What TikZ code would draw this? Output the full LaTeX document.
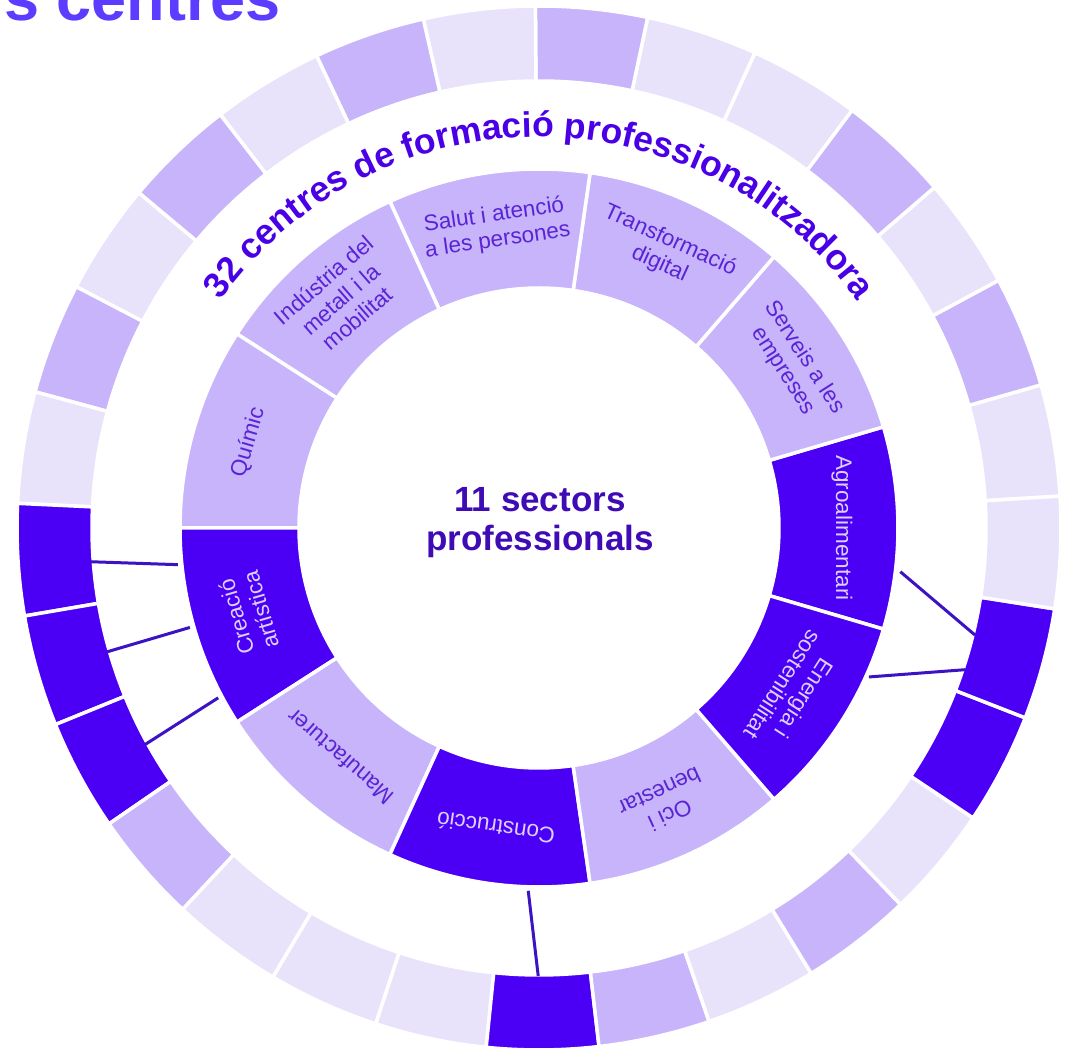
\documentclass[tikz,border=0pt]{standalone}
\usepackage{fontspec}
\setmainfont{Liberation Sans}
\usetikzlibrary{decorations.text}
\definecolor{dk}{HTML}{4B00F5}
\definecolor{md}{HTML}{C7B4FA}
\definecolor{vl}{HTML}{E9E2FB}
\definecolor{ptx}{HTML}{5A24D6}
\definecolor{ltx}{HTML}{DCD0FF}
\definecolor{ctx}{HTML}{3F0BB5}
\definecolor{arct}{HTML}{4A00E6}
\definecolor{ttl}{HTML}{5C3CFF}
\definecolor{conn}{HTML}{3B12C4}
\tikzset{
  seg/.style={draw=white, line width=3.5pt},
  lab/.style={align=center, inner sep=0pt, font=\fontsize{22.5}{25.5}\selectfont},
  connline/.style={draw=conn, line width=3pt},
}
\begin{document}
\begin{tikzpicture}[x=1pt,y=1pt]
\useasboundingbox (0,0) rectangle (1068,1051);
\fill[white] (0,0) rectangle (1068,1051);
\clip (0,0) rectangle (1068,1051);
\coordinate (O) at (539,523);

% outer ring: 29 segments
\foreach \col [count=\k from 0] in {vl,md,vl,md,vl,vl,md,vl,md,vl,md,vl,md,vl,dk,dk,dk,md,vl,vl,vl,dk,md,vl,md,vl,dk,dk,vl}{
  \pgfmathsetmacro{\angA}{3.5+\k*360/29}
  \pgfmathsetmacro{\angB}{\angA+360/29}
  \filldraw[seg, fill=\col] ([shift={(O)}]\angA:447) arc[start angle=\angA, end angle=\angB, radius=447]
     -- ([shift={(O)}]\angB:522) arc[start angle=\angB, end angle=\angA, radius=522] -- cycle;
}

% inner ring: 11 sectors
\foreach \i/\col/\tc/\txt in {
  0/dk/ltx/Agroalimentari,
  1/md/ptx/{Serveis a les\\empreses},
  2/md/ptx/{Transformació\\digital},
  3/md/ptx/{Salut i atenció\\a les persones},
  4/md/ptx/{Indústria del\\metall i la\\mobilitat},
  5/md/ptx/Químic,
  6/dk/ltx/{Creació\\artística},
  7/md/ptx/Manufacturer,
  8/dk/ltx/Construcció,
  9/md/ptx/{Oci i\\benestar},
  10/dk/ltx/{Energia i\\sostenibilitat}}{
  \pgfmathsetmacro{\angC}{\i*360/11}
  \pgfmathsetmacro{\angA}{\angC-180/11}
  \pgfmathsetmacro{\angB}{\angC+180/11}
  \filldraw[seg, fill=\col] ([shift={(O)}]\angA:240) arc[start angle=\angA, end angle=\angB, radius=240]
     -- ([shift={(O)}]\angB:359) arc[start angle=\angB, end angle=\angA, radius=359] -- cycle;
  \node[lab, text=\tc, rotate=\angC-90] (s\i) at ([shift={(O)}]\angC:303) {\txt};
}

% connectors
\coordinate (l1a) at ([shift={(O)}]185.8:363);
\coordinate (l1b) at ([shift={(O)}]184.3:450);
\coordinate (l2a) at ([shift={(O)}]195.9:363);
\coordinate (l2b) at ([shift={(O)}]196.0:450);
\coordinate (l3a) at ([shift={(O)}]207.9:363);
\coordinate (l3b) at ([shift={(O)}]208.8:450);
\coordinate (b1a) at ([shift={(O)}]268.3:363);
\coordinate (b1b) at ([shift={(O)}]269.9:448);
\coordinate (r1a) at ([shift={(O)}]-6.9:364);
\coordinate (r1b) at ([shift={(O)}]-13.8:449);
\coordinate (r2a) at ([shift={(O)}]-24.3:362);
\coordinate (r2b) at ([shift={(O)}]-18.4:449);
\draw[connline] (l1a) -- (l1b);
\draw[connline] (l2a) -- (l2b);
\draw[connline] (l3a) -- (l3b);
\draw[connline] (b1a) -- (b1b);
\draw[connline] (r1a) -- (r1b);
\draw[connline] (r2a) -- (r2b);

% centre text
\node[anchor=base, inner sep=0pt, text=ctx, font=\fontsize{35}{40}\selectfont\bfseries] (c1) at (540,539) {11 sectors};
\node[anchor=base, inner sep=0pt, text=ctx, font=\fontsize{35}{40}\selectfont\bfseries] (c2) at (540,500) {professionals};

% arc title
\path[decorate, decoration={text along path, text align=center, text color=arct,
   text={|\fontsize{35.5}{40}\selectfont\bfseries|32 centres de formació professionalitzadora}}]
   ([shift={(O)}]165:391) arc[start angle=165, end angle=15, radius=391];

% cropped top title
\node[anchor=base west, inner sep=0pt, text=ttl, font=\fontsize{63}{70}\selectfont\bfseries] (t1) at (4,1030) {s centres};
\end{tikzpicture}
\end{document}
